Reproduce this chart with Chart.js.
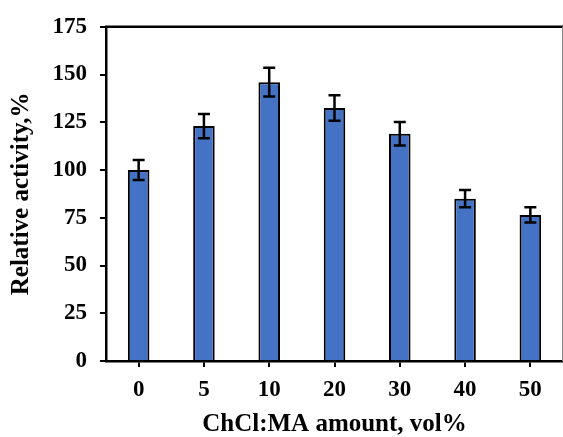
<!DOCTYPE html>
<html>
<head>
<meta charset="utf-8">
<script src="https://cdn.jsdelivr.net/npm/chart.js@4.4.1/dist/chart.umd.min.js"></script>
<style>
  html, body { margin: 0; padding: 0; background: #fff; }
  #wrap { width: 563px; height: 437px; }
</style>
</head>
<body>
<div id="wrap"><canvas id="chart" width="563" height="437"></canvas></div>
<script>
// ChCl:MA amount (vol%) vs relative activity
const categories = ['0', '5', '10', '20', '30', '40', '50'];
const activity = [100, 123, 146, 132.5, 119, 85, 76.5];
const errors = [5.2, 6.3, 7.5, 6.7, 6.1, 4.5, 4.0];

const serif = "'Times New Roman', 'Liberation Serif', serif";

// error bars drawn through the scales
const errorBars = {
    id: 'errorBars',
    afterDatasetsDraw(chart) {
        const ctx = chart.ctx;
        const y = chart.scales.y;
        const meta = chart.getDatasetMeta(0);
        ctx.save();
        ctx.strokeStyle = '#000';
        ctx.lineWidth = 2.5;
        meta.data.forEach((bar, i) => {
            const top = y.getPixelForValue(activity[i] + errors[i]);
            const bot = y.getPixelForValue(activity[i] - errors[i]);
            ctx.beginPath();
            ctx.moveTo(bar.x, top);
            ctx.lineTo(bar.x, bot);
            ctx.moveTo(bar.x - 6, top);
            ctx.lineTo(bar.x + 6, top);
            ctx.moveTo(bar.x - 6, bot);
            ctx.lineTo(bar.x + 6, bot);
            ctx.stroke();
        });
        ctx.restore();
    }
};

// top frame line + thin right edge
const frame = {
    id: 'frame',
    afterDraw(chart) {
        const { ctx, chartArea } = chart;
        ctx.save();
        ctx.strokeStyle = '#000';
        ctx.lineWidth = 2.5;
        ctx.beginPath();
        ctx.moveTo(chartArea.left - 1, chartArea.top);
        ctx.lineTo(chartArea.right, chartArea.top);
        ctx.stroke();
        ctx.strokeStyle = '#888';
        ctx.lineWidth = 1;
        ctx.beginPath();
        ctx.moveTo(chartArea.right - 0.5, chartArea.top);
        ctx.lineTo(chartArea.right - 0.5, chartArea.bottom);
        ctx.stroke();
        ctx.restore();
    }
};

new Chart(document.getElementById('chart'), {
    type: 'bar',
    data: {
        labels: categories,
        datasets: [{
            data: activity,
            backgroundColor: '#4472C4',
            borderColor: '#000',
            borderWidth: 2,
            barPercentage: 0.33,
            categoryPercentage: 1
        }]
    },
    options: {
        responsive: false,
        animation: false,
        layout: { padding: { top: 24, right: 0, bottom: 0, left: 0 } },
        plugins: { legend: { display: false }, tooltip: { enabled: false } },
        scales: {
            x: {
                grid: { display: true, offset: false, drawOnChartArea: false, color: '#000', lineWidth: 2, tickLength: 6 },
                border: { display: true, color: '#000', width: 2.5 },
                ticks: { color: '#000', padding: 9, font: { family: serif, size: 23, weight: 'bold' } },
                title: { display: true, text: 'ChCl:MA amount, vol%', color: '#000', padding: { top: 0, bottom: -3 }, font: { family: serif, size: 25, weight: 'bold' } },
                afterFit(scale) { scale.height = 76; }
            },
            y: {
                min: 0,
                max: 175,
                ticks: { stepSize: 25, color: '#000', padding: 13, font: { family: serif, size: 23, weight: 'bold' } },
                grid: { display: true, drawOnChartArea: false, color: '#000', lineWidth: 2, tickLength: 6 },
                border: { display: true, color: '#000', width: 2.5 },
                title: { display: true, text: 'Relative activity,%', color: '#000', padding: { top: 7, bottom: 2 }, font: { family: serif, size: 25, weight: 'bold' } },
                afterFit(scale) { scale.width = 106; }
            }
        }
    },
    plugins: [errorBars, frame]
});
</script>
</body>
</html>
